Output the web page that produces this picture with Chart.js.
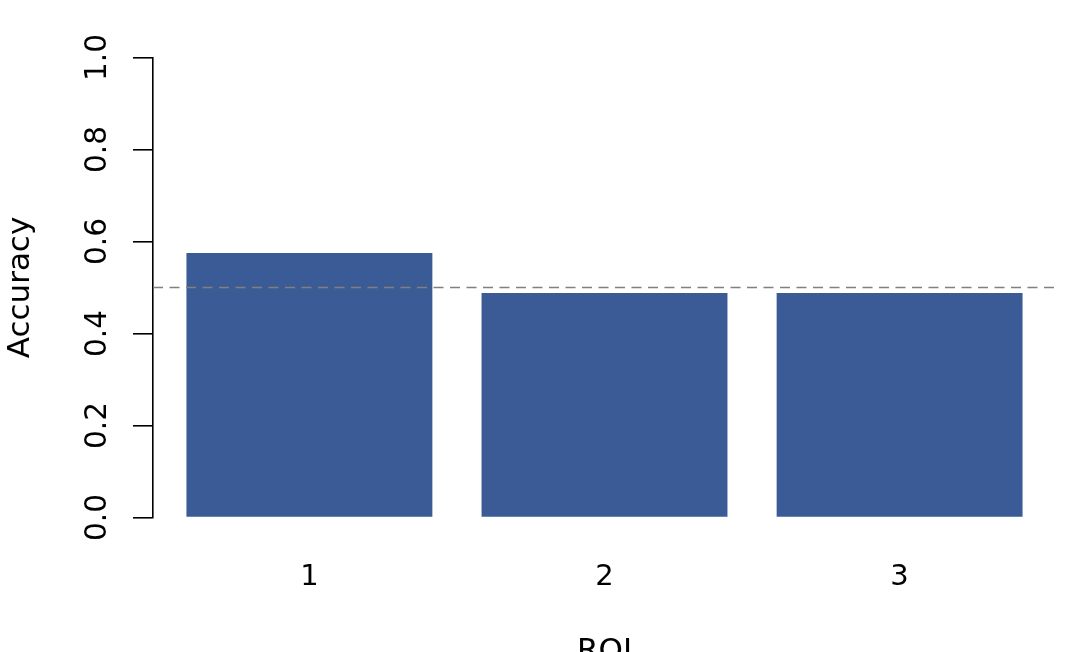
<!DOCTYPE html>
<html>
<head>
<meta charset="utf-8">
<script src="https://cdn.jsdelivr.net/npm/chart.js@4/dist/chart.umd.min.js"></script>
<style>
  html, body { margin: 0; padding: 0; background: #fff; overflow: hidden; }
  #wrap { width: 1075px; height: 652px; }
</style>
</head>
<body>
<div id="wrap"><canvas id="graficoAccuracy"></canvas></div>
<script>
// datos
const rois = ['1', '2', '3'];
const accuracy = [0.575, 0.488, 0.488];
const yTicks = [0, 0.2, 0.4, 0.6, 0.8, 1.0];
const chanceLevel = 0.5;

const fuente = 'DejaVu Sans';

// posiciones tipo barplot de R (ancho 1, espacio 0.2)
const xPos = rois.map((r, i) => 0.7 + i * 1.2);

// linea punteada en el nivel de azar
const lineaAzar = {
  id: 'lineaAzar',
  afterDatasetsDraw(chart) {
    const { ctx, chartArea, scales } = chart;
    const y = scales.y.getPixelForValue(chanceLevel);
    ctx.save();
    ctx.strokeStyle = '#808080';
    ctx.lineWidth = 1.6;
    ctx.setLineDash([10, 6.5]);
    ctx.beginPath();
    ctx.moveTo(chartArea.left, y);
    ctx.lineTo(chartArea.right, y);
    ctx.stroke();
    ctx.restore();
  }
};

new Chart(document.getElementById('graficoAccuracy'), {
  type: 'bar',
  data: {
    datasets: [{
      data: rois.map((r, i) => ({ x: xPos[i], y: accuracy[i] })),
      backgroundColor: '#3B5B96',
      borderWidth: 0,
      categoryPercentage: 1,
      barPercentage: 1 / 1.2
    }]
  },
  options: {
    responsive: true,
    maintainAspectRatio: false,
    animation: false,
    layout: { padding: { top: 57.5, right: 19, left: 0, bottom: 0 } },
    plugins: {
      legend: { display: false },
      tooltip: { enabled: false }
    },
    scales: {
      x: {
        type: 'linear',
        min: 0.064,
        max: 3.736,
        offset: false,
        border: { display: false },
        grid: { display: false, drawTicks: false },
        afterBuildTicks: s => { s.ticks = xPos.map(v => ({ value: v })); },
        afterFit: s => { s.height = 134.5; },
        ticks: {
          autoSkip: false,
          maxRotation: 0,
          padding: 43,
          color: '#000',
          font: { family: fuente, size: 29 },
          callback: (v, i) => rois[i]
        },
        title: {
          display: true,
          text: 'ROI',
          color: '#000',
          font: { family: fuente, size: 31 },
          padding: { top: 0, bottom: -18.6 }
        }
      },
      y: {
        min: 0,
        max: 1,
        border: { display: true, color: '#000', width: 1.6 },
        grid: { drawOnChartArea: false, tickLength: 20, color: '#000', lineWidth: 1.6 },
        afterBuildTicks: s => { s.ticks = yTicks.map(v => ({ value: v })); },
        afterFit: s => { s.width = 153; },
        ticks: {
          minRotation: 90,
          maxRotation: 90,
          crossAlign: 'center',
          padding: 11,
          color: '#000',
          font: { family: fuente, size: 29.5 },
          callback: v => v.toFixed(1)
        },
        title: {
          display: true,
          text: 'Accuracy',
          color: '#000',
          font: { family: fuente, size: 31 },
          padding: { top: 2.4, bottom: 0 }
        }
      }
    }
  },
  plugins: [lineaAzar]
});
</script>
</body>
</html>
